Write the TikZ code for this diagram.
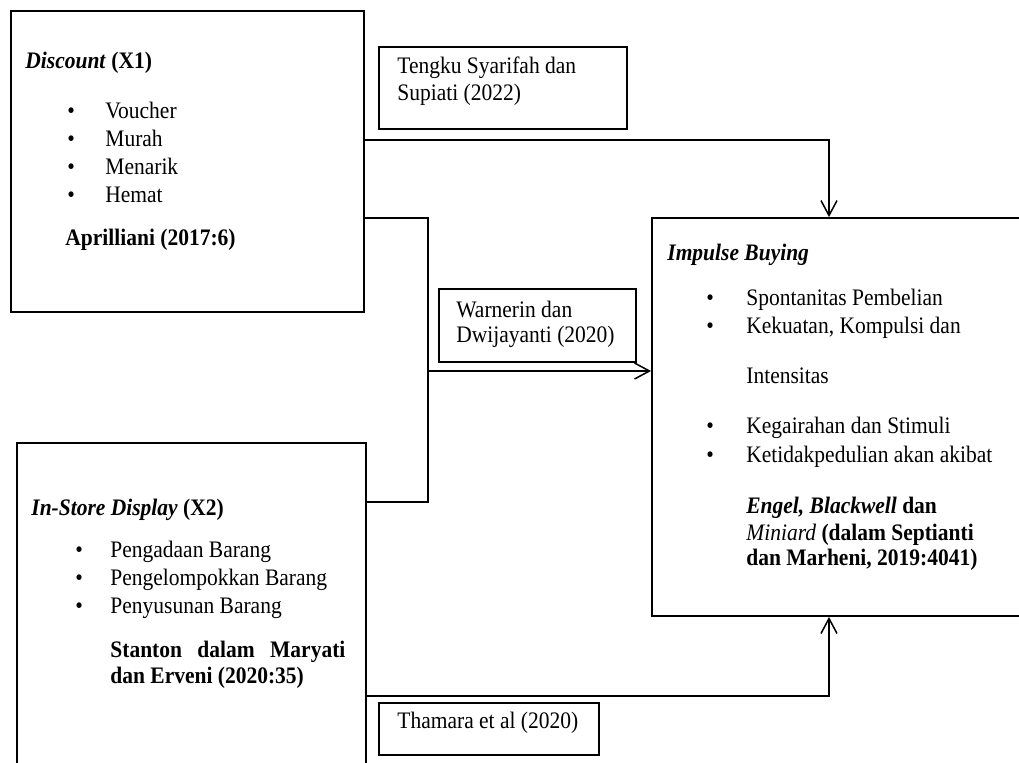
\documentclass[tikz,border=0pt]{standalone}
\usepackage{fontspec}
\setmainfont{Liberation Serif}
\usetikzlibrary{arrows.meta,calc}
\newcommand\vst[1]{\scalebox{1}[1.1]{#1}}
\begin{document}
\begin{tikzpicture}[x=0.5pt,y=-0.5pt,
  box/.style={draw,line width=0.9pt,inner sep=0pt,rectangle},
  txt/.style={anchor=base west,inner sep=0pt,font=\fontsize{10.75}{12}\selectfont},
  conn/.style={line width=0.75pt},
  arr/.style={conn,-{Straight Barb[length=7.5pt,width=8pt]}}]
\useasboundingbox (0,0) rectangle (1019,762);
\fill[white] (0,0) rectangle (1019,762);

% boxes
\node[box,minimum width=176.5pt,minimum height=150.5pt] (disc) at (187.5,161.5) {};
\node[box,minimum width=124pt,minimum height=41pt] (tengku) at (503,88) {};
\node[box,minimum width=98.5pt,minimum height=36.5pt] (warn) at (537.5,325.5) {};
\node[box,minimum width=186pt,minimum height=199pt] (imp) at (838,417) {};
\node[box,minimum width=174.5pt,minimum height=168.5pt] (inst) at (191.5,611.5) {};
\node[box,minimum width=110pt,minimum height=26pt] (tham) at (489,729) {};

% Discount texts
\node[txt] (d0) at (25,68) {\vst{\textbf{\textit{Discount} (X1)}}};
\node[txt] (db1) at (67,118) {\vst{•}};
\node[txt] (db2) at (67,146) {\vst{•}};
\node[txt] (db3) at (67,174) {\vst{•}};
\node[txt] (db4) at (67,202) {\vst{•}};
\node[txt] (d1) at (105,118) {\vst{Voucher}};
\node[txt] (d2) at (105,146) {\vst{Murah}};
\node[txt] (d3) at (105,174) {\vst{Menarik}};
\node[txt] (d4) at (105,202) {\vst{Hemat}};
\node[txt] (d5) at (65,245) {\vst{\textbf{Aprilliani (2017:6)}}};

% Tengku
\node[txt] (t1) at (397,73) {\vst{Tengku Syarifah dan}};
\node[txt] (t2) at (397,100) {\vst{Supiati (2022)}};

% Warnerin
\node[txt] (w1) at (456,317) {\vst{Warnerin dan}};
\node[txt] (w2) at (456,342) {\vst{Dwijayanti (2020)}};

% Impulse buying
\node[txt] (i0) at (667,260) {\vst{\textbf{\textit{Impulse Buying}}}};
\node[txt] (ib1) at (706,305) {\vst{•}};
\node[txt] (ib2) at (706,333) {\vst{•}};
\node[txt] (ib3) at (706,433) {\vst{•}};
\node[txt] (ib4) at (706,462) {\vst{•}};
\node[txt] (i1) at (746,305) {\vst{Spontanitas Pembelian}};
\node[txt] (i2) at (746,333) {\vst{Kekuatan, Kompulsi dan}};
\node[txt] (i3) at (746,383) {\vst{Intensitas}};
\node[txt] (i4) at (746,433) {\vst{Kegairahan dan Stimuli}};
\node[txt] (i5) at (746,462) {\vst{Ketidakpedulian akan akibat}};
\node[txt] (i6) at (746,513) {\vst{\textbf{\textit{Engel, Blackwell} dan}}};
\node[txt] (i7) at (746,540) {\vst{\textit{Miniard} \textbf{(dalam Septianti}}};
\node[txt] (i8) at (746,565) {\vst{\textbf{dan Marheni, 2019:4041)}}};

% In-Store Display
\node[txt] (s0) at (31,515) {\vst{\textbf{\textit{In-Store Display} (X2)}}};
\node[txt] (sb1) at (75,557) {\vst{•}};
\node[txt] (sb2) at (75,585) {\vst{•}};
\node[txt] (sb3) at (75,613) {\vst{•}};
\node[txt] (s1) at (110,557) {\vst{Pengadaan Barang}};
\node[txt] (s2) at (110,585) {\vst{Pengelompokkan Barang}};
\node[txt] (s3) at (110,613) {\vst{Penyusunan Barang}};
\node[txt] (s4) at (110,657) {\vst{\makebox[117.5pt][s]{\bfseries Stanton\hfill dalam\hfill Maryati}}};
\node[txt] (s5) at (110,683) {\vst{\textbf{dan Erveni (2020:35)}}};

% Thamara
\node[txt] (h1) at (397,728) {\vst{Thamara et al (2020)}};

% connectors
\coordinate (c1) at (364,140);
\coordinate (c2) at (829,140);
\draw[arr] (c1 -| disc.east) -- (c2) -- (c2 |- imp.north);

\coordinate (j1) at (428,218);
\coordinate (j2) at (428,502);
\coordinate (j3) at (428,371);
\draw[conn] (j1 -| disc.east) -- (j1) -- (j2) -- (j2 -| inst.east);
\draw[arr] (j3) -- (j3 -| imp.west);

\coordinate (b1) at (366,696);
\coordinate (b2) at (829,696);
\draw[arr] (b1 -| inst.east) -- (b2) -- (b2 |- imp.south);
\end{tikzpicture}
\end{document}
